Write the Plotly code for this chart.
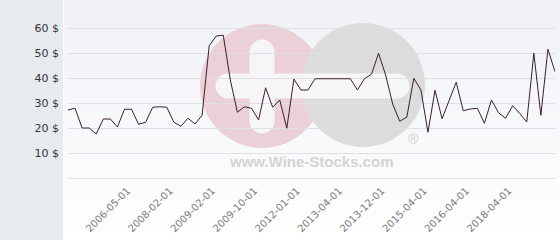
import plotly.graph_objects as go

# ---- data ----
point_index = list(range(70))
prices = [27.2, 27.9, 20.0, 20.0, 17.6, 23.6, 23.6, 20.4, 27.5, 27.5,
          21.5, 22.3, 28.3, 28.5, 28.3, 22.3, 20.7, 23.9, 21.6, 25.1,
          52.9, 56.8, 57.1, 39.2, 26.3, 28.5, 27.9, 23.2, 36.1, 28.3,
          31.2, 19.9, 39.6, 35.2, 35.2, 39.7, 39.7, 39.7, 39.7, 39.7,
          39.7, 35.2, 39.7, 41.5, 49.9, 41.2, 29.6, 22.7, 24.3, 39.9,
          35.2, 18.3, 35.1, 23.7, 31.0, 38.3, 26.9, 27.6, 27.9, 21.9,
          31.2, 26.1, 23.9, 28.9, 25.8, 22.4, 49.9, 25.1, 51.5, 42.5]
x_tick_positions = [9, 15, 21, 27, 33, 39, 45, 51, 57, 63]
x_tick_labels = ["2006-05-01", "2008-02-01", "2009-02-01", "2009-10-01",
                 "2012-01-01", "2013-04-01", "2013-12-01", "2015-04-01",
                 "2016-04-01", "2018-04-01"]
y_tick_values = [0, 10, 20, 30, 40, 50, 60]
y_tick_labels = ["", "10 $", "20 $", "30 $", "40 $", "50 $", "60 $"]

# ---- layout geometry (pixels) ----
WIDTH, HEIGHT = 560, 240
L, R, T, B = 68, 555, 23, 183
PW, PH = R - L, B - T


def px(x):
    return (x - L) / PW


def py(y):
    return (B - y) / PH


shapes = []
# left strip
shapes.append(dict(type="rect", xref="paper", yref="paper", x0=px(0), x1=px(63),
                   y0=py(HEIGHT), y1=py(0), fillcolor="#e7ebee", line_width=0, layer="below"))
# gradient background on the right
n = 24
for i in range(n):
    t = i / (n - 1)
    r = int(240 + (255 - 240) * t)
    g = int(242 + (255 - 242) * t)
    b = int(247 + (255 - 247) * t)
    shapes.append(dict(type="rect", xref="paper", yref="paper", x0=px(63), x1=px(WIDTH),
                       y0=py((i + 1) * HEIGHT / n), y1=py(i * HEIGHT / n),
                       fillcolor=f"rgb({r},{g},{b})", line_width=0, layer="below"))
shapes.append(dict(type="line", xref="paper", yref="paper", x0=px(63.5), x1=px(63.5),
                   y0=py(HEIGHT), y1=py(0), line=dict(color="#ffffff", width=1), layer="below"))


def circle(cx, cy, r, color):
    return dict(type="circle", xref="paper", yref="paper", x0=px(cx - r), x1=px(cx + r),
                y0=py(cy + r), y1=py(cy - r), fillcolor=color, line_width=0, layer="below")


def rect(x0, y0, x1, y1, color):
    return dict(type="rect", xref="paper", yref="paper", x0=px(x0), x1=px(x1),
                y0=py(y1), y1=py(y0), fillcolor=color, line_width=0, layer="below")


PINK, GREY, WHITE = "#ebd0d7", "#dcdcdc", "#f6f6f8"
shapes.append(circle(262, 86, 62, PINK))
shapes.append(circle(363, 85, 62, GREY))
hw = 12.5
# plus (vertical)
shapes.append(rect(262 - hw, 52, 262 + hw, 121, WHITE))
shapes.append(circle(262, 52, hw, WHITE))
shapes.append(circle(262, 121, hw, WHITE))
# plus (horizontal) joined with minus
shapes.append(rect(228, 86 - hw, 397, 86 + hw, WHITE))
shapes.append(circle(228, 86, hw, WHITE))
shapes.append(circle(397, 86, hw, WHITE))

annotations = [
    dict(text="<b>www.Wine-Stocks.com</b>", xref="paper", yref="paper", x=px(311.5), y=py(161),
         xanchor="center", yanchor="middle", showarrow=False,
         font=dict(family="Liberation Sans", size=15, color="#d4d4d4")),
    dict(text="®", xref="paper", yref="paper", x=px(413), y=py(139),
         xanchor="center", yanchor="middle", showarrow=False,
         font=dict(family="Liberation Sans", size=14, color="#cfcfcf")),
]

fig = go.Figure()
fig.add_trace(go.Scatter(x=point_index, y=prices, mode="lines",
                         line=dict(color="#3a1f2b", width=1), hoverinfo="skip"))

fig.update_layout(
    width=WIDTH, height=HEIGHT,
    margin=dict(l=L, r=WIDTH - R, t=T, b=HEIGHT - B, pad=0, autoexpand=False),
    paper_bgcolor="#ffffff", plot_bgcolor="rgba(0,0,0,0)",
    showlegend=False, shapes=shapes, annotations=annotations,
    xaxis=dict(range=[0, 69], tickvals=x_tick_positions, ticktext=x_tick_labels,
               tickangle=-45, showgrid=False, zeroline=False, showline=False,
               ticks="", ticklabelstandoff=-1, ticklabelshift=-4, automargin=False,
               tickfont=dict(family="DejaVu Sans", size=10, color="#7a7a7a")),
    yaxis=dict(range=[-2, 62], tickvals=y_tick_values, ticktext=y_tick_labels,
               showgrid=True, gridcolor="#dfe0e3", gridwidth=1, zeroline=False,
               showline=False, ticks="", ticklabelstandoff=8, automargin=False,
               tickfont=dict(family="DejaVu Sans", size=11, color="#333333")),
)

fig.write_html("out.html")
